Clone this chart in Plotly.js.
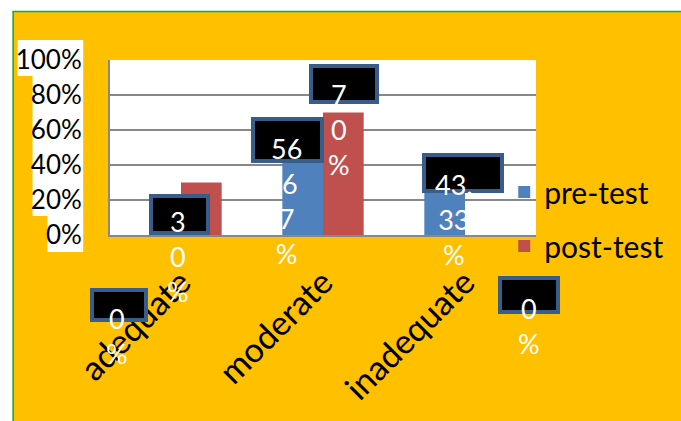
<!DOCTYPE html>
<html>
<head>
<meta charset="utf-8">
<script src="https://cdn.plot.ly/plotly-3.0.1.min.js"></script>
<style>html,body{margin:0;padding:0;background:#fff;}#chart{width:681px;height:421px;}</style>
</head>
<body>
<div id="chart"></div>
<script>
// ---- data ----
const categories = ["adequate", "moderate", "inadequate"];
const preTest = [0, 0.5667, 0.4333];
const postTest = [0.30, 0.70, 0];
const preLabels = ["0<br>%", "56<br>.6<br>7<br>%", "43.<br>33<br>%"];
const postLabels = ["3<br>0<br>%", "7<br>0<br>%", "0<br>%"];
const seriesNames = ["pre-test", "post-test"];
const yTicks = [0, 0.2, 0.4, 0.6, 0.8, 1.0];

// ---- label placement (pixels relative to bar top, +dy = down) ----
// [boxDx, boxDy, boxW, boxH, textDx, textDy]
const preLabelPos = [
  [-62.5, 70, 58, 34, -64, 83],
  [-35.5, 4, 73, 46, -37, 11],
  [-2, 14, 82, 40, -11, 24]
];
const postLabelPos = [
  [-1.5, 32, 61, 41, -3, 37.5],
  [20.5, -28.5, 70, 40, 15.5, -19.5],
  [63.5, 60, 62, 38, 63.5, 73]
];

const FONT = "Lato, 'Open Sans', sans-serif";
const W = 681, H = 421;
const L = 110, R = 142, T = 60, B = 186;
const PW = W - L - R, PH = H - T - B;
const px = x => (x - L) / PW;
const py = y => (H - B - y) / PH;
const LINE_H = 36;
const BW = 4;

const annotations = [];
function addLabels(values, labels, pos) {
  values.forEach((v, i) => {
    const p = pos[i];
    annotations.push({
      x: categories[i], y: v, xref: 'x', yref: 'y',
      text: ' ', showarrow: false,
      xanchor: 'center', yanchor: 'middle',
      xshift: p[0], yshift: -p[1],
      width: p[2] - 2 * BW, height: p[3] - 2 * BW,
      bgcolor: '#000000', bordercolor: '#385D8A', borderwidth: BW, borderpad: 0
    });
  });
  values.forEach((v, i) => {
    const p = pos[i];
    const n = labels[i].split('<br>').length;
    annotations.push({
      x: categories[i], y: v, xref: 'x', yref: 'y',
      text: labels[i], showarrow: false,
      xanchor: 'center', yanchor: 'middle', align: 'center',
      xshift: p[4], yshift: -(p[5] + (n - 1) * LINE_H / 2),
      font: {family: FONT, size: 27, color: '#ffffff'}
    });
  });
}
addLabels(preTest, preLabels, preLabelPos);
addLabels(postTest, postLabels, postLabelPos);

const shapes = [
  // white page margin top & left
  {type: 'rect', xref: 'paper', yref: 'paper', x0: px(-5), x1: px(W + 5), y0: py(-5), y1: py(11), fillcolor: '#ffffff', line: {width: 0}, layer: 'below'},
  {type: 'rect', xref: 'paper', yref: 'paper', x0: px(-5), x1: px(12), y0: py(-5), y1: py(H + 5), fillcolor: '#ffffff', line: {width: 0}, layer: 'below'},
  {type: 'line', xref: 'paper', yref: 'paper', x0: px(12), x1: px(W + 5), y0: py(11.5), y1: py(11.5), line: {color: '#00B050', width: 1.5}, layer: 'below'},
  {type: 'line', xref: 'paper', yref: 'paper', x0: px(12.5), x1: px(12.5), y0: py(11), y1: py(H + 5), line: {color: '#00B050', width: 1.5}, layer: 'below'},
  // white backgrounds behind tick labels
  {type: 'rect', xref: 'paper', yref: 'paper', x0: px(17), x1: px(83), y0: py(40), y1: py(76), fillcolor: '#ffffff', line: {width: 0}, layer: 'below'},
  {type: 'rect', xref: 'paper', yref: 'paper', x0: px(32), x1: px(83), y0: py(76), y1: py(216), fillcolor: '#ffffff', line: {width: 0}, layer: 'below'},
  {type: 'rect', xref: 'paper', yref: 'paper', x0: px(47), x1: px(83), y0: py(216), y1: py(252), fillcolor: '#ffffff', line: {width: 0}, layer: 'below'}
];

const data = [
  {type: 'bar', x: categories, y: preTest, name: seriesNames[0], legendgroup: 'a',
   marker: {color: '#4F81BD'}, hoverinfo: 'none'},
  {type: 'bar', x: categories, y: postTest, name: seriesNames[1], legendgroup: 'b',
   marker: {color: '#C0504D'}, hoverinfo: 'none'}
];

const layout = {
  width: W, height: H,
  margin: {l: L, r: R, t: T, b: B, pad: 0},
  paper_bgcolor: '#FFC000',
  plot_bgcolor: '#ffffff',
  font: {family: FONT, color: '#000000'},
  barmode: 'group', bargap: 0.427, bargroupgap: 0,
  showlegend: true,
  legend: {
    x: px(507), y: py(166), xanchor: 'left', yanchor: 'top',
    bgcolor: 'rgba(0,0,0,0)', borderwidth: 0,
    font: {family: FONT, size: 30, color: '#000000'},
    tracegroupgap: 12, traceorder: 'grouped'
  },
  xaxis: {
    type: 'category', range: [-0.5, 2.5], autorange: false, tickangle: -45,
    tickfont: {family: FONT, size: 34, color: '#000000'},
    showline: true, linecolor: '#888888', linewidth: 2,
    ticks: '', showgrid: false, ticklabelstandoff: 12
  },
  yaxis: {
    range: [0, 1], autorange: false, tickvals: yTicks, tickformat: '.0%',
    tickfont: {family: FONT, size: 26, color: '#000000'},
    showline: true, linecolor: '#888888', linewidth: 2,
    showgrid: true, gridcolor: '#888888', gridwidth: 2,
    zeroline: false, ticks: '', ticklabelstandoff: 21
  },
  annotations: annotations,
  shapes: shapes
};

Plotly.newPlot('chart', data, layout, {staticPlot: true, displayModeBar: false});
</script>
</body>
</html>
